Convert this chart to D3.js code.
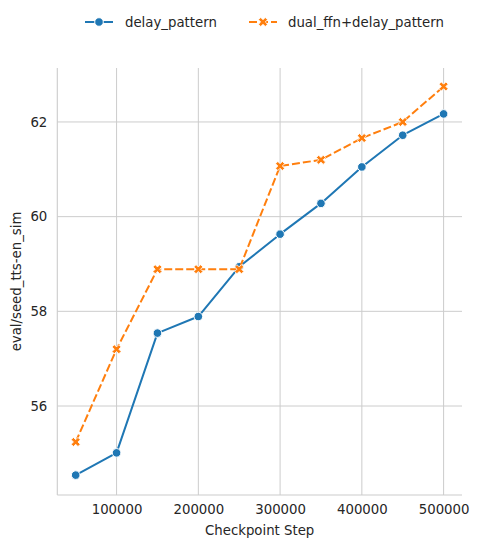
<!DOCTYPE html>
<html>
<head>
<meta charset="utf-8">
<script src="https://cdn.jsdelivr.net/npm/d3@7"></script>
<style>
  html, body { margin: 0; padding: 0; background: #fff; }
  svg { display: block; font-family: "DejaVu Sans", sans-serif; }
</style>
</head>
<body>
<svg id="chart" width="479" height="548"></svg>
<script>
const steps = [50000, 100000, 150000, 200000, 250000, 300000, 350000, 400000, 450000, 500000];
const delayPattern = [54.54, 55.01, 57.54, 57.89, 58.94, 59.63, 60.28, 61.05, 61.72, 62.17];
const dualFfnDelayPattern = [55.24, 57.20, 58.89, 58.89, 58.89, 61.07, 61.20, 61.66, 62.00, 62.75];
const seriesNames = ["delay_pattern", "dual_ffn+delay_pattern"];
const xTicks = [100000, 200000, 300000, 400000, 500000];
const yTicks = [56, 58, 60, 62];
const xLabel = "Checkpoint Step";
const yLabel = "eval/seed_tts-en_sim";

const colors = ["#1f77b4", "#ff7f0e"];
const svg = d3.select("#chart");
const L = 57.3, R = 462, T = 68, B = 495;

const x = d3.scaleLinear().domain([27500, 522500]).range([L, R]);
const y = d3.scaleLinear().domain([54.12, 63.14]).range([B, T]);

// grid
svg.append("g").selectAll("line").data(xTicks).join("line")
  .attr("x1", d => x(d)).attr("x2", d => x(d)).attr("y1", T).attr("y2", B)
  .attr("stroke", "#cccccc").attr("stroke-width", 1);
svg.append("g").selectAll("line").data(yTicks).join("line")
  .attr("x1", L).attr("x2", R).attr("y1", d => y(d)).attr("y2", d => y(d))
  .attr("stroke", "#cccccc").attr("stroke-width", 1);

// axes
const xAxis = d3.axisBottom(x).tickValues(xTicks).tickSize(0).tickPadding(10).tickFormat(d3.format("d"));
const gx = svg.append("g").attr("transform", `translate(0,${B})`).call(xAxis);
const yAxis = d3.axisLeft(y).tickValues(yTicks).tickSize(0).tickPadding(10).tickFormat(d3.format("d"));
const gy = svg.append("g").attr("transform", `translate(${L},0)`).call(yAxis);
[gx, gy].forEach(g => {
  g.select(".domain").attr("stroke", "#cccccc").attr("stroke-width", 1.1);
  g.selectAll("text").attr("fill", "#262626").attr("font-size", "13.3px").attr("font-family", "DejaVu Sans, sans-serif");
});
gy.select(".domain").attr("d", `M0,${T}V${B}`);
gx.select(".domain").attr("d", `M${L},0H${R}`);

svg.append("text").attr("x", (L + R) / 2).attr("y", 535)
  .attr("text-anchor", "middle").attr("fill", "#262626").attr("font-size", "13.3px").text(xLabel);
svg.append("text").attr("transform", `translate(21,${(T + B) / 2}) rotate(-90)`)
  .attr("text-anchor", "middle").attr("fill", "#262626").attr("font-size", "13.3px").text(yLabel);

const line = d3.line().x(d => x(d[0])).y(d => y(d[1]));
const allSeries = [delayPattern, dualFfnDelayPattern];
const xSym = d3.symbol().type(d3.symbolCross).size(52);
const circSym = d3.symbol().type(d3.symbolCircle).size(58);

allSeries.forEach((vals, i) => {
  const pts = steps.map((s, k) => [s, vals[k]]);
  svg.append("path").datum(pts).attr("d", line).attr("fill", "none")
    .attr("stroke", colors[i]).attr("stroke-width", 2)
    .attr("stroke-dasharray", i === 1 ? "8,3" : null)
    .attr("stroke-linejoin", "round").attr("stroke-linecap", i === 1 ? "butt" : "round");
  svg.append("g").selectAll("path").data(pts).join("path")
    .attr("d", i === 0 ? circSym : xSym)
    .attr("transform", d => `translate(${x(d[0])},${y(d[1])})` + (i === 1 ? " rotate(45)" : ""))
    .attr("fill", colors[i]).attr("stroke", "#fff").attr("stroke-width", i === 0 ? 1 : 0.8);
});

// legend
const legend = [
  { x1: 85, x2: 113, tx: 125, i: 0 },
  { x1: 249, x2: 277, tx: 288, i: 1 }
];
const ly = 22;
legend.forEach(l => {
  svg.append("line").attr("x1", l.x1).attr("x2", l.x2).attr("y1", ly).attr("y2", ly)
    .attr("stroke", colors[l.i]).attr("stroke-width", 2)
    .attr("stroke-dasharray", l.i === 1 ? "8,3" : null);
  svg.append("path").attr("d", l.i === 0 ? circSym : xSym)
    .attr("transform", `translate(${(l.x1 + l.x2) / 2},${ly})` + (l.i === 1 ? " rotate(45)" : ""))
    .attr("fill", colors[l.i]).attr("stroke", "#fff").attr("stroke-width", l.i === 0 ? 1 : 0.8);
  svg.append("text").attr("x", l.tx).attr("y", ly).attr("dy", "0.35em")
    .attr("fill", "#262626").attr("font-size", "13.3px").text(seriesNames[l.i]);
});
</script>
</body>
</html>
